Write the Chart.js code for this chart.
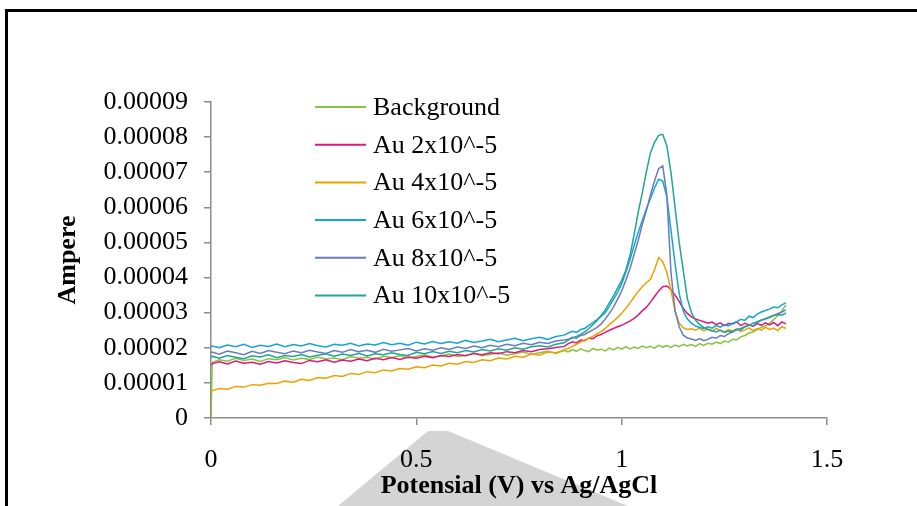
<!DOCTYPE html>
<html>
<head>
<meta charset="utf-8">
<script src="https://cdn.jsdelivr.net/npm/chart.js@4.4.0/dist/chart.umd.min.js"></script>
<style>
  html, body { margin: 0; padding: 0; background: #ffffff; }
  #wrap { position: relative; width: 917px; height: 506px; overflow: hidden; background: #ffffff; }
  #frame { position: absolute; left: 5px; top: 9px; width: 1000px; height: 600px; border-left: 3px solid #000; border-top: 3px solid #000; box-sizing: border-box; }
  #wm { position: absolute; left: 0; top: 0; }
  #c { position: absolute; left: 0; top: 0; }
</style>
</head>
<body>
<div id="wrap">
  <svg id="wm" width="917" height="506"><polygon points="428,431 448,431 628,506 338,506" fill="#d4d4d4"/></svg>
  <div id="frame"></div>
  <canvas id="c" width="917" height="506"></canvas>
</div>
<script>
// Potential (V) vs Ag/AgCl
const potential = [0,0.003,0.02,0.04,0.06,0.08,0.1,0.12,0.14,0.16,0.18,0.2,0.22,0.24,0.26,0.28,0.3,0.32,0.34,0.36,0.38,0.4,0.42,0.44,0.46,0.48,0.5,0.52,0.54,0.56,0.58,0.6,0.62,0.64,0.66,0.68,0.7,0.72,0.74,0.76,0.78,0.8,0.82,0.84,0.86,
  0.87,0.88,0.89,0.9,0.91,0.92,0.93,0.94,0.95,0.96,
  0.97,0.98,0.99,1.0,1.01,1.02,1.03,1.04,1.05,1.06,
  1.07,1.08,1.09,1.1,1.11,1.12,1.13,1.14,1.15,1.16,
  1.17,1.18,1.19,1.2,1.21,1.22,1.23,1.24,1.25,1.26,
  1.27,1.28,1.29,1.3,1.31,1.32,1.33,1.34,1.35,1.36,
  1.37,1.38,1.39,1.4];

// Current values in units of 1e-5 A
const background = [0,1.58,1.66,1.62,1.70,1.64,1.68,1.61,1.69,1.66,
  1.72,1.65,1.70,1.67,1.74,1.68,1.71,1.66,1.75,1.70,
  1.73,1.68,1.76,1.72,1.78,1.71,1.75,1.80,1.73,1.77,
  1.82,1.75,1.79,1.84,1.77,1.81,1.86,1.79,1.83,1.88,
  1.81,1.86,1.90,1.84,1.92,
  1.88,1.95,1.90,1.97,1.92,1.89,1.98,1.93,1.96,1.91,
  1.99,1.94,2.01,1.96,2.03,1.97,2.02,1.98,2.05,2.00,
  2.04,1.99,2.07,2.02,2.06,2.01,2.08,2.03,2.10,2.05,
  2.09,2.04,2.12,2.07,2.13,2.10,2.16,2.12,2.19,2.16,
  2.24,2.22,2.31,2.35,2.42,2.45,2.52,2.58,2.62,2.70,
  2.80,2.92,3.05,3.22];

const au2 = [1.52,1.55,1.60,1.54,1.62,1.56,1.59,1.53,1.61,1.57,
  1.63,1.58,1.55,1.64,1.60,1.66,1.59,1.65,1.62,1.68,
  1.63,1.70,1.66,1.72,1.67,1.74,1.70,1.76,1.72,1.78,
  1.75,1.81,1.77,1.84,1.80,1.86,1.83,1.89,1.86,1.92,
  1.89,1.95,1.97,2.01,2.04,
  2.12,2.17,2.14,2.22,2.20,2.28,2.26,2.34,2.38,2.44,
  2.50,2.55,2.60,2.64,2.70,2.76,2.84,2.93,3.05,3.15,
  3.30,3.46,3.62,3.74,3.76,3.66,3.50,3.32,3.12,2.98,
  2.88,2.82,2.78,2.74,2.70,2.73,2.66,2.71,2.63,2.69,
  2.68,2.74,2.63,2.70,2.66,2.61,2.69,2.64,2.71,2.65,
  2.72,2.63,2.74,2.68];

const au4 = [0.74,0.78,0.84,0.82,0.90,0.88,0.95,0.93,0.99,0.98,
  1.05,1.02,1.10,1.07,1.15,1.13,1.21,1.18,1.27,1.24,
  1.32,1.29,1.37,1.34,1.41,1.39,1.46,1.43,1.51,1.48,
  1.56,1.53,1.61,1.58,1.66,1.63,1.71,1.68,1.76,1.73,
  1.82,1.79,1.88,1.86,1.94,
  1.98,2.04,2.10,2.16,2.22,2.27,2.33,2.40,2.46,2.55,
  2.66,2.76,2.86,2.98,3.12,3.28,3.44,3.60,3.74,3.85,
  3.95,4.22,4.57,4.45,4.15,3.65,3.05,2.70,2.57,2.52,
  2.54,2.50,2.56,2.48,2.53,2.47,2.55,2.50,2.45,2.52,
  2.48,2.54,2.46,2.51,2.57,2.49,2.55,2.50,2.58,2.52,
  2.56,2.49,2.60,2.55];

const au6 = [2.02,2.05,2.00,2.08,2.03,2.10,2.01,2.07,2.04,2.11,
  2.03,2.09,2.05,2.12,2.06,2.02,2.10,2.07,2.13,2.05,
  2.11,2.08,2.15,2.09,2.13,2.07,2.16,2.11,2.18,2.12,
  2.17,2.13,2.21,2.15,2.19,2.24,2.17,2.22,2.27,2.20,
  2.26,2.30,2.24,2.32,2.36,
  2.42,2.47,2.44,2.52,2.55,2.64,2.72,2.80,2.90,3.00,
  3.18,3.38,3.58,3.82,4.15,4.50,4.90,5.28,5.62,5.95,
  6.25,6.55,6.80,6.75,6.30,5.35,4.40,3.55,3.05,2.82,
  2.70,2.62,2.58,2.55,2.60,2.56,2.63,2.59,2.66,2.62,
  2.70,2.74,2.81,2.78,2.90,2.86,2.96,3.02,3.06,3.10,
  3.16,3.14,3.22,3.28];

const au8 = [1.85,1.88,1.82,1.91,1.86,1.80,1.90,1.84,1.92,1.87,
  1.83,1.91,1.86,1.93,1.88,1.84,1.92,1.87,1.95,1.89,
  1.93,1.87,1.96,1.90,1.94,1.98,1.91,1.97,1.93,2.00,
  1.95,2.02,1.98,2.05,2.00,2.07,2.03,2.10,2.06,2.13,
  2.09,2.16,2.12,2.19,2.22,
  2.24,2.30,2.27,2.35,2.38,2.45,2.51,2.58,2.68,2.82,
  2.98,3.16,3.38,3.62,3.92,4.25,4.65,5.05,5.50,5.90,
  6.35,6.75,7.10,7.18,6.35,4.15,3.05,2.60,2.36,2.28,
  2.25,2.21,2.26,2.20,2.24,2.30,2.27,2.35,2.32,2.40,
  2.45,2.52,2.50,2.60,2.65,2.62,2.72,2.78,2.82,2.86,
  2.92,2.97,3.02,3.08];

const au10 = [1.72,1.76,1.70,1.78,1.73,1.69,1.77,1.74,1.80,1.72,
  1.78,1.75,1.81,1.74,1.79,1.83,1.76,1.82,1.78,1.84,
  1.77,1.83,1.80,1.86,1.81,1.78,1.87,1.83,1.89,1.84,
  1.90,1.86,1.92,1.88,1.95,1.91,1.97,1.93,2.00,1.96,
  2.03,2.06,2.02,2.10,2.14,
  2.22,2.28,2.32,2.38,2.45,2.55,2.66,2.78,2.92,3.08,
  3.28,3.48,3.70,3.92,4.20,4.62,5.20,5.85,6.40,7.00,
  7.55,7.85,8.05,8.08,7.75,7.00,6.00,5.00,4.20,3.40,
  3.00,2.78,2.66,2.58,2.52,2.49,2.45,2.50,2.44,2.48,
  2.46,2.52,2.55,2.60,2.64,2.70,2.74,2.79,2.83,2.88,
  2.92,2.95,2.93,2.99];

const seriesLabels = ['Background','Au 2x10^-5','Au 4x10^-5','Au 6x10^-5','Au 8x10^-5','Au 10x10^-5'];
const seriesColors = ['#86c440','#e0187a','#eaa300','#14a5d3','#6a7bbf','#20a596'];
const seriesValues = [background, au2, au4, au6, au8, au10];
const yTickLabels = ['0','0.00001','0.00002','0.00003','0.00004','0.00005','0.00006','0.00007','0.00008','0.00009'];
const xTickLabels = ['0','0.5','1','1.5'];

const FONT = '"Liberation Serif", "Times New Roman", serif';

const datasets = seriesValues.map((vals, i) => ({
  label: seriesLabels[i],
  data: vals.map((v, k) => ({ x: potential[k], y: v })),
  borderColor: seriesColors[i],
  backgroundColor: seriesColors[i],
  borderWidth: 1.5,
  pointRadius: 0,
  fill: false,
  tension: 0,
  order: 5 - i
}));

const legendPlugin = {
  id: 'insideLegend',
  afterDraw(chart) {
    const ctx = chart.ctx;
    ctx.save();
    ctx.font = '26px ' + FONT;
    ctx.textBaseline = 'middle';
    ctx.textAlign = 'left';
    chart.data.datasets.forEach((ds, i) => {
      const y = 107 + i * 37.7;
      ctx.strokeStyle = ds.borderColor;
      ctx.lineWidth = 2;
      ctx.beginPath();
      ctx.moveTo(315, y);
      ctx.lineTo(366, y);
      ctx.stroke();
      ctx.fillStyle = '#000';
      ctx.fillText(ds.label, 373, y + 1);
    });
    ctx.restore();
  }
};

new Chart(document.getElementById('c'), {
  type: 'line',
  data: { datasets },
  plugins: [legendPlugin],
  options: {
    responsive: false,
    animation: false,
    devicePixelRatio: 1,
    layout: { padding: { left: 0, top: 102, right: 90, bottom: 0 } },
    plugins: { legend: { display: false }, tooltip: { enabled: false } },
    scales: {
      x: {
        type: 'linear',
        min: 0, max: 1.5,
        afterFit(s) { s.height = 88; },
        afterBuildTicks(s) { s.ticks = xTickLabels.map(t => ({ value: parseFloat(t) })); },
        ticks: {
          callback: (v, i) => xTickLabels[i],
          font: { family: FONT, size: 26 },
          color: '#000',
          padding: 20,
          maxRotation: 0
        },
        grid: { drawOnChartArea: false, drawTicks: true, tickLength: 7, color: '#8c8c8c', lineWidth: 1.5 },
        border: { display: true, color: '#8c8c8c', width: 1.5 },
        title: {
          display: true,
          text: 'Potensial (V) vs Ag/AgCl',
          font: { family: FONT, size: 26, weight: 'bold' },
          color: '#000',
          padding: { top: 0, bottom: 4 }
        }
      },
      y: {
        type: 'linear',
        min: 0, max: 9,
        afterFit(s) { s.width = 211; },
        afterBuildTicks(s) { s.ticks = yTickLabels.map((t, i) => ({ value: i })); },
        ticks: {
          callback: (v, i) => yTickLabels[i],
          font: { family: FONT, size: 26 },
          color: '#000',
          padding: 16
        },
        grid: { drawOnChartArea: false, drawTicks: true, tickLength: 7, color: '#8c8c8c', lineWidth: 1.5 },
        border: { display: true, color: '#8c8c8c', width: 1.5 },
        title: {
          display: true,
          text: 'Ampere',
          font: { family: FONT, size: 26, weight: 'bold' },
          color: '#000',
          padding: { top: 53, bottom: 0 }
        }
      }
    }
  }
});
</script>
</body>
</html>
